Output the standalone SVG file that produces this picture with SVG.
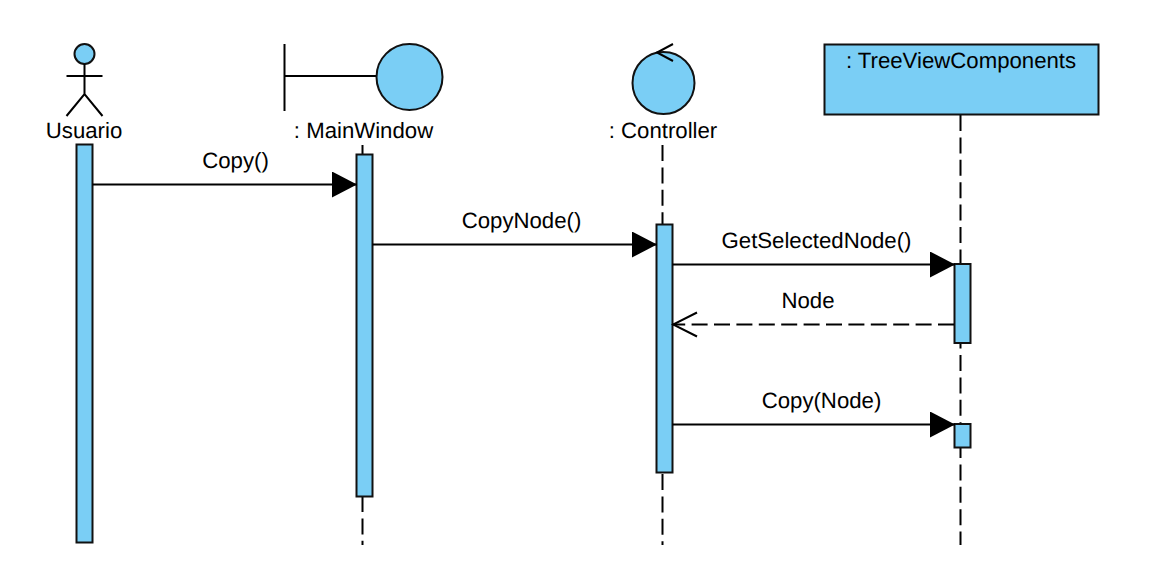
<svg xmlns="http://www.w3.org/2000/svg" width="1155" height="580" viewBox="0 0 1155 580">
<style>
.s{fill:#7acef5;stroke:#111;stroke-width:2}
.l{fill:none;stroke:#000;stroke-width:2}
.d{fill:none;stroke:#000;stroke-width:2;stroke-dasharray:16 6.4}
.t{font-family:"Liberation Sans",Arial,sans-serif;font-size:22.2px;fill:#000;text-anchor:middle;text-rendering:geometricPrecision}
</style>
<defs>
<marker id="solid" markerUnits="userSpaceOnUse" markerWidth="26" markerHeight="26" refX="25" refY="13" orient="auto"><path d="M0 0L25 13L0 26Z" fill="#000"/></marker>
<marker id="open" markerUnits="userSpaceOnUse" markerWidth="28" markerHeight="28" refX="26" refY="14" orient="auto"><path d="M2 2L26 14L2 26" fill="none" stroke="#000" stroke-width="2"/></marker>
</defs>
<rect width="1155" height="580" fill="#fff"/>
<g id="lifelines">
<path class="d" d="M362.5 145V154"/>
<path class="d" d="M362.5 496V545"/>
<path class="d" d="M662.5 145V224"/>
<path class="d" d="M662.5 474V545"/>
<path class="d" d="M960.5 115V264"/>
<path class="d" d="M960.5 343V424" stroke-dashoffset="-12"/>
<path class="d" d="M960.5 448V545" stroke-dashoffset="6"/>
</g>
<g id="usuario">
<circle class="s" cx="84.5" cy="54" r="10"/>
<path class="l" d="M84.5 64V94M66.5 76H102.5M66.5 116L84.5 94L102.5 116"/>
<text class="t" x="84" y="138">Usuario</text>
<rect class="s" x="76.5" y="144.5" width="16" height="398"/>
</g>
<g id="mainwindow">
<path class="l" d="M284.5 44V111M284.5 76H376"/>
<circle class="s" cx="409.5" cy="77" r="33"/>
<text class="t" x="363.5" y="138">: MainWindow</text>
<rect class="s" x="356.5" y="154.5" width="16" height="342"/>
</g>
<g id="controller">
<circle class="s" cx="663.5" cy="83" r="31"/>
<path class="l" d="M673 44L657 52.500L673 61"/>
<text class="t" x="663" y="138">: Controller</text>
<rect class="s" x="656.500" y="224.500" width="16" height="248"/>
</g>
<g id="treeviewcomponents">
<rect class="s" x="824.500" y="44.500" width="274" height="70"/>
<text class="t" x="961" y="68">: TreeViewComponents</text>
<rect class="s" x="954.500" y="264" width="16" height="79"/>
<rect class="s" x="954.500" y="424" width="16" height="23.500"/>
</g>
<g id="connectors">
<path class="l" d="M92.500 184.500H357" marker-end="url(#solid)"/>
<path class="l" d="M372.500 244.500H657" marker-end="url(#solid)"/>
<path class="l" d="M672.500 264.500H955" marker-end="url(#solid)"/>
<path class="l" d="M954 324.500H673" stroke-dasharray="16 6.400" marker-end="url(#open)"/>
<path class="l" d="M672.500 424.500H955" marker-end="url(#solid)"/>
</g>
<g id="labels">
<text class="t" x="235.500" y="168">Copy()</text>
<text class="t" x="521.500" y="228">CopyNode()</text>
<text class="t" x="816.500" y="248">GetSelectedNode()</text>
<text class="t" x="808" y="308">Node</text>
<text class="t" x="821.500" y="408">Copy(Node)</text>
</g>
</svg>
